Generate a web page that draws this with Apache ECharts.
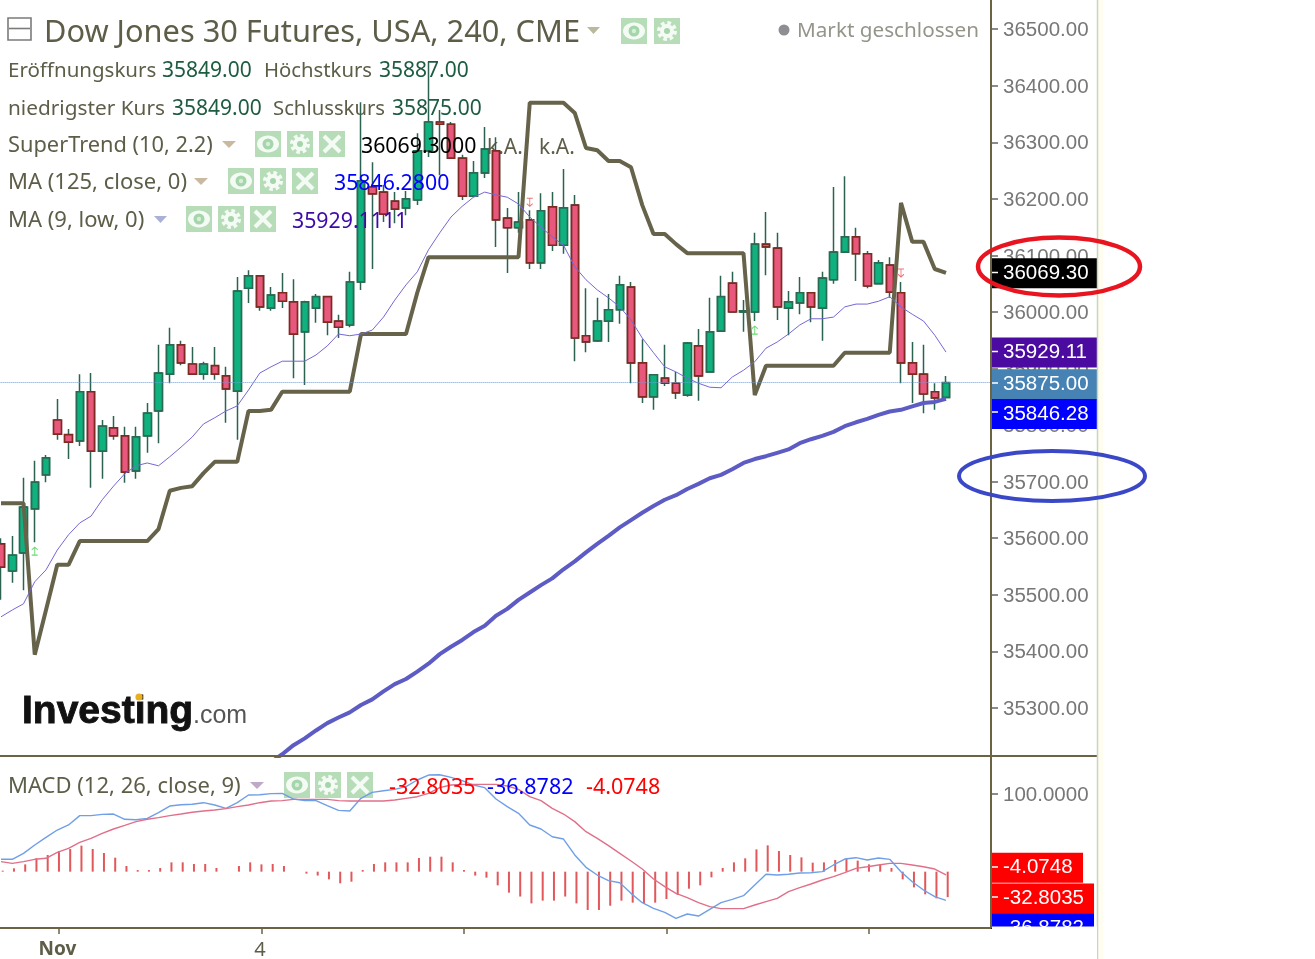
<!DOCTYPE html>
<html><head><meta charset="utf-8">
<style>html,body{margin:0;padding:0;background:#fff}#c{width:1315px;height:959px}</style>
<script src="https://cdn.jsdelivr.net/npm/echarts@6/dist/echarts.min.js"></script>
</head><body><div id="c"></div>
<script>
const opens=[35590,35542,35574,35652,35712,35809,35783,35772,35859,35754,35795,35781,35719,35781,35825,35890,35942,35908,35890,35905,35887,35860,36042,36064,36007,36034,36018,35965,36007,36027,35984,35977,36053,36221,36212,36196,36184,36198,36285,36336,36332,36272,36205,36246,36285,36166,36149,36163,36087,36186,36118,36189,35958,35949,35984,36004,36044,35910,35850,35883,35874,35853,35940,35894,35966,36051,36000,36000,36120,36113,36007,36016,36034,36007,36057,36106,36133,36103,36050,36083,36034,35910,35890,35859,35849];
const closes=[35549,35570,35655,35699,35742,35784,35770,35859,35754,35798,35781,35717,35779,35821,35892,35942,35910,35890,35908,35890,35864,36037,36064,36009,36030,36019,35961,36018,36027,35982,35973,36053,36232,36209,36173,36182,36200,36285,36336,36332,36272,36205,36246,36288,36163,36149,36159,36087,36179,36118,36184,35954,35947,35984,36004,36048,35910,35850,35889,35874,35857,35945,35887,35965,36027,36000,36002,36120,36115,36009,36018,36034,36009,36060,36106,36133,36103,36046,36087,36035,35910,35890,35855,35848,35875];
const lows=[35491,35521,35508,35593,35699,35774,35740,35763,35689,35705,35774,35698,35705,35751,35768,35874,35906,35890,35880,35880,35804,35774,36016,36002,36002,36007,35883,35871,35981,35959,35954,35973,36039,36076,36159,36157,36171,36189,36274,36242,36272,36198,36203,36237,36115,36069,36140,36076,36076,36108,36103,35913,35929,35947,35947,35979,35874,35839,35827,35869,35846,35850,35843,35894,35966,36000,35965,35984,36065,35986,35959,35996,35982,35949,36050,36106,36055,36042,36050,36025,35874,35839,35821,35827,35849];
const highs=[35600,35604,35707,35737,35747,35846,35793,35890,35892,35809,35816,35797,35797,35839,35942,35972,35949,35938,35912,35938,35903,36062,36074,36064,36044,36069,36058,36020,36032,36028,35995,36071,36371,36265,36225,36212,36214,36316,36442,36357,36336,36278,36267,36327,36309,36184,36212,36180,36210,36212,36253,36207,36042,36025,36032,36064,36053,35952,35890,35942,35894,35947,35970,36025,36064,36071,36021,36140,36177,36140,36037,36062,36034,36071,36221,36240,36149,36108,36092,36097,36053,35947,35942,35874,35887];
const superTrend=[35662,35662,35662,35394,35473,35553,35553,35595,35595,35595,35595,35595,35595,35595,35616,35684,35689,35692,35715,35735,35735,35735,35825,35825,35827,35859,35859,35859,35859,35859,35859,35859,35961,35961,35961,35961,35961,36034,36097,36097,36097,36097,36097,36097,36097,36097,36097,36370,36370,36370,36370,36352,36290,36286,36267,36267,36256,36189,36138,36138,36120,36104,36104,36104,36104,36104,36104,35853,35905,35905,35905,35905,35905,35905,35905,35928,35928,35928,35928,35928,36193,36124,36124,36076,36069.3];
const ma9Low=[35461,35473,35484,35523,35544,35579,35606,35627,35639,35668,35692,35714,35728,35733,35728,35744,35761,35779,35802,35813,35825,35834,35862,35892,35903,35913,35913,35913,35924,35940,35961,35958,35961,35968,35991,36021,36048,36071,36110,36140,36168,36187,36203,36212,36207,36203,36191,36168,36150,36133,36118,36080,36057,36039,36025,36009,35986,35954,35928,35903,35894,35883,35874,35867,35866,35885,35897,35912,35936,35947,35961,35977,35988,35988,35991,36009,36014,36014,36019,36027,36009,35996,35984,35959,35929.11];
const ma125Close=[null,null,null,null,null,null,null,null,null,null,null,null,null,null,null,null,null,null,null,null,null,null,null,null,35204,35218,35234,35246,35260,35273,35283,35292,35305,35315,35329,35342,35351,35364,35378,35395,35408,35420,35434,35445,35463,35475,35491,35504,35517,35529,35545,35559,35575,35590,35604,35619,35632,35645,35657,35668,35676,35687,35696,35706,35712,35722,35733,35740,35745,35751,35757,35768,35775,35781,35788,35798,35805,35811,35818,35824,35827,35833,35839,35841,35846.28];
const macdLine=[15.9,15.9,23.6,34.3,44.2,53.6,60.1,72.1,72.1,73.8,74.2,67.4,66.9,68.6,75.9,84.5,86.2,86.7,88.8,85.8,81.5,88.8,98.7,99.1,100.4,100.8,93.5,91.4,91.4,84.9,78.9,78.1,94.4,102.1,104.2,106,109.4,118,124.4,124.8,121.4,117.1,111.5,108.1,93.5,83.7,75.1,60.1,54.9,45,42,21.5,5.6,-4.3,-11.6,-14.2,-27.9,-39.9,-47.2,-52.3,-60.1,-54.5,-57.1,-48.5,-39.9,-35.6,-30.9,-17.2,-3.4,-4.3,-3.4,-1.7,-1.3,0,8.6,16.3,18,15,17.6,15.9,0,-12.9,-23.6,-32.2,-36.8782];
const signalLine=[12.9,10.7,12.9,15.9,17.2,24.9,30,37.8,42.9,49.3,54.9,59.6,64.4,67.4,69.5,72.1,74.2,76.4,78.1,79.4,81.1,83.7,85.8,88.8,90.9,91.4,93.1,93.1,93.1,93.1,91.4,90.9,90.9,90.9,90.9,92.2,94.4,96.5,100.8,108.1,111.5,112.4,112.4,112.4,112.4,110.3,106,96.5,91.4,81.5,74.2,64.4,51.5,42.9,33.5,23.6,13.7,3.4,-9.4,-19.3,-27.9,-33.5,-39.9,-45,-47.6,-47.6,-47.6,-42.9,-38.6,-34.3,-25.7,-20.6,-15.9,-10.7,-6.4,-1.3,4.3,6.4,8.6,10.7,10.7,8.6,6.4,3.4,-4.0748];
const histogram=[1.3,4.3,9.4,17.2,21.5,26.6,29.2,33.5,29.2,24,18,7.3,2.1,2.1,4.7,12,12,9.9,9.9,4.7,0,7.3,12,9.4,9.9,7.3,0,-2.5,-5,-9.9,-15,-12.9,2.1,9.9,12,12,12,17.6,19.3,19.3,12,2.1,-5,-7.7,-17.6,-27,-32,-40.8,-37.3,-37.3,-32,-40.8,-49.3,-49.3,-43.8,-37.3,-39.9,-40.8,-39.9,-35.2,-30,-21.9,-17.6,-7.3,4.7,12,17.2,28.7,33.9,26.6,21.5,18.4,11.6,12,15,16.3,14.2,9.4,9.4,4.7,-9.9,-20.2,-29.2,-34.3,-32.8035];
const upMarkers=[[3,35577],[67,35968]];
const downMarkers=[[47,36194],[80,36069]];
const priceTicks=[35300,35400,35500,35600,35700,35800,35900,36000,36100,36200,36300,36400,36500];
const macdTicks=[100];
const xTickLabels={5:'Nov',23:'4',41:'',59:'',77:''};

const slots=Array.from({length:89},(_,i)=>String(i));
const wickData=opens.map((o,i)=>[o,closes[i],lows[i],highs[i]]);
const bodyData=opens.map((o,i)=>[o,closes[i],Math.min(o,closes[i]),Math.max(o,closes[i])]);

const GREEN='#0fb27f',GREENB='#2a6a52',RED='#e8577c',REDB='#7d2a22',WICK='#2c6350';
const TXT='#5d5d48',VAL='#1d5c40',SANS='"Noto Sans",sans-serif',ARIAL='"Liberation Sans",Arial,sans-serif';
const g=[];
function text(x,y,t,fill,size,font,weight,z,extra){g.push({type:'text',z:z||0,style:Object.assign({x,y:y+(font?0:1.8),text:t,fill,font:(weight?weight+' ':'')+size+'px '+(font||SANS),verticalAlign:'middle',textVerticalAlign:'middle'},extra||{}),silent:true});}
function tri(x0,x1,y,fill){g.push({type:'polygon',shape:{points:[[x0,y-3],[x1,y-3],[(x0+x1)/2,y+4]]},style:{fill}});}
function rect(x,y,w,h,fill,z,extra){g.push({type:'rect',z:z||0,shape:{x,y,width:w,height:h},style:Object.assign({fill},extra||{})});}
function line(x1,y1,x2,y2,stroke,w,z){g.push({type:'line',z:z||0,shape:{x1,y1,x2,y2},style:{stroke,lineWidth:w}});}
const ICON='#b6dcb8';
function eye(x,y){rect(x,y,26,26,ICON);g.push({type:'ellipse',shape:{cx:x+13,cy:y+13,rx:11,ry:8.5},style:{fill:'#f4fbf4'}});g.push({type:'circle',shape:{cx:x+13,cy:y+13,r:5.5},style:{fill:'#a5d5aa'}});g.push({type:'circle',shape:{cx:x+13,cy:y+13,r:2.2},style:{fill:'#d8eeda'}});}
function gear(x,y){rect(x,y,26,26,ICON);g.push({type:'circle',shape:{cx:x+13,cy:y+13,r:8},style:{fill:'none',stroke:'#f4fbf4',lineWidth:4,lineDash:[3.5,2.8]}});g.push({type:'circle',shape:{cx:x+13,cy:y+13,r:7},style:{fill:'#f4fbf4'}});g.push({type:'circle',shape:{cx:x+13,cy:y+13,r:3},style:{fill:'#a5d5aa'}});}
function cross(x,y){rect(x,y,26,26,ICON);line(x+5,y+5,x+21,y+21,'#f4fbf4',4);line(x+21,y+5,x+5,y+21,'#f4fbf4',4);}

// header
rect(8,18,23,22,'#fff',0,{stroke:'#7b7b78',lineWidth:1.6});line(9,28.5,30,28.5,'#7b7b78',1.6);
text(44,31,'Dow Jones 30 Futures, USA, 240, CME',TXT,30.75);
tri(587,600,30,'#b9b99c');eye(621,18);gear(654,18);
g.push({type:'circle',shape:{cx:784,cy:30,r:5.5},style:{fill:'#8f8f93'}});
text(797,29,'Markt geschlossen','#94948a',20.7);
text(8,69,'Eröffnungskurs',TXT,20.5);text(162,69,'35849.00',VAL,21);text(264,69,'Höchstkurs',TXT,20.3);text(379,69,'35887.00',VAL,21);
text(8,107,'niedrigster Kurs',TXT,20.8);text(172,107,'35849.00',VAL,21);text(273,107,'Schlusskurs',TXT,20.3);text(392,107,'35875.00',VAL,21);
text(8,144,'SuperTrend (10, 2.2)',TXT,21.8);tri(222,236,144,'#c9b9a0');eye(255,131);gear(287,131);cross(319,131);
text(361,145,'36069.3000','#000',21.3,null,null,10);text(487,146,'k.A.',TXT,21);text(539,146,'k.A.',TXT,21);
text(8,181,'MA (125, close, 0)',TXT,22);tri(194,208,181,'#c9b9a0');eye(228,168);gear(260,168);cross(292,168);
text(334,182,'35846.2800','#0000ff',21.3,null,null,10);
text(8,219,'MA (9, low, 0)',TXT,22);tri(154,167,219,'#aab0d8');eye(186,206);gear(218,206);cross(250,206);
text(292,220,'35929.1111','#3d0aa8',21.3,null,null,10);
text(8,785,'MACD (12, 26, close, 9)',TXT,22);tri(250,264,785,'#c0a8c8');eye(284,772);gear(315,772);cross(347,772);
text(389,786,'-32.8035','#ff0000',21.5,null,null,10);text(487,786,'-36.8782','#0000ff',21.5,null,null,10);text(586,786,'-4.0748','#ff0000',21.5,null,null,10);
// logo
text(22,712,'Investing','#111',39,ARIAL,'bold',0,{stroke:'#111',lineWidth:0.9});
text(193,716,'.com','#555',25,ARIAL);
g.push({type:'circle',shape:{cx:139,cy:697,r:3.6},style:{fill:'#e8b020'}});
// frame
line(0,756,1097,756,'#6b6343',2,50);line(0,928,991,928,'#6b6343',2,50);line(991,0,991,928,'#6b6343',2,50);
line(1097.5,0,1097.5,959,'#c8d6c0',1.5,50);rect(1098,0,5,959,'#fffdf0',0);
// white ticks in tags
[272.5,351.5,383,412,867,897].forEach(y=>line(992,y,998,y,'#ffffff',1.5,60));
// clip of stacked macd tag
rect(992,926.5,105,33,'#fff',70);rect(989,929,4,30,'#fff',70);
// ellipses
g.push({type:'ellipse',z:100,shape:{cx:1059,cy:266.5,rx:81,ry:29},style:{fill:'none',stroke:'#e8141f',lineWidth:4.5}});
g.push({type:'ellipse',z:100,shape:{cx:1052,cy:476,rx:93,ry:25},style:{fill:'none',stroke:'#3a48c8',lineWidth:4}});

function tag(v,color,dy,boxW,dec){return {yAxis:v,lineStyle:{color:'transparent',width:0},label:{show:true,position:'end',distance:0,offset:[-6.6,dy],formatter:v.toFixed(dec),color:'#fff',fontFamily:ARIAL,fontSize:20.5,backgroundColor:color,width:boxW-13,height:28,lineHeight:28,padding:[2,0,0,13],align:'left'}};}

const axisText={a:{fontFamily:ARIAL,fontSize:20.5,color:'#777',padding:[3,0,0,0]}};
const GL=-4.625,GW=1001.25;
const option={
 animation:false,backgroundColor:'#fff',
 graphic:{elements:g},
 grid:[
  {left:GL,top:0,width:GW,height:756,outerBoundsMode:'none'},
  {left:GL,top:757,width:GW,height:171,outerBoundsMode:'none'},
  {left:GL+1.7,top:757,width:GW,height:171,outerBoundsMode:'none'}
 ],
 xAxis:[
  {type:'category',gridIndex:0,data:slots,show:false},
  {type:'category',gridIndex:1,data:slots,show:false},
  {type:'category',gridIndex:2,data:slots,axisLine:{show:false,onZero:false},
   axisTick:{show:true,alignWithLabel:true,length:6,lineStyle:{color:'#6b6343',width:1.5},interval:(i)=>i in xTickLabels},
   axisLabel:{show:true,interval:(i)=>i in xTickLabels,margin:12,hideOverlap:false,formatter:(v,i)=>{const t=xTickLabels[i]||'';return t==='Nov'?'{b|Nov}':'{n|'+t+'}';},rich:{b:{fontFamily:SANS,fontWeight:'bold',fontSize:19,color:TXT,padding:[0,3,0,0]},n:{fontFamily:SANS,fontSize:20,color:TXT,padding:[0,3,0,0]}}}}
 ],
 yAxis:[
  {type:'value',gridIndex:0,position:'right',offset:-5.6,min:35214.85,max:36551.7,splitLine:{show:false},axisLine:{show:false},
   axisTick:{show:true,length:7,customValues:priceTicks,lineStyle:{color:'#666',width:1.5}},
   axisLabel:{show:true,margin:12,customValues:priceTicks,formatter:v=>'{a|'+v.toFixed(2)+'}',rich:axisText}},
  {type:'value',gridIndex:1,position:'right',offset:-5.6,min:-72.5,max:147.6,splitLine:{show:false},axisLine:{show:false},
   axisTick:{show:true,length:7,customValues:macdTicks,lineStyle:{color:'#666',width:1.5}},
   axisLabel:{show:true,margin:12,customValues:macdTicks,formatter:v=>'{a|'+v.toFixed(4)+'}',rich:axisText}},
  {type:'value',gridIndex:2,min:-72.5,max:147.6,show:false}
 ],
 series:[
  {name:'Docht',type:'candlestick',xAxisIndex:0,yAxisIndex:0,data:wickData,barWidth:7,z:2,
   itemStyle:{color:GREEN,color0:RED,borderColor:WICK,borderColor0:WICK,borderWidth:1.5}},
  {name:'Dow Jones 30 Futures',type:'candlestick',xAxisIndex:0,yAxisIndex:0,data:bodyData,barWidth:8,z:3,
   itemStyle:{color:GREEN,color0:RED,borderColor:GREENB,borderColor0:REDB,borderWidth:1.7}},
  {name:'SuperTrend',type:'line',xAxisIndex:0,yAxisIndex:0,data:superTrend,symbol:'none',z:4,lineStyle:{color:'#66634a',width:4}},
  {name:'MA 125',type:'line',xAxisIndex:0,yAxisIndex:0,data:ma125Close,symbol:'none',z:4,connectNulls:false,lineStyle:{color:'#5c5cc4',width:4}},
  {name:'MA 9',type:'line',xAxisIndex:0,yAxisIndex:0,data:ma9Low,symbol:'none',z:4,lineStyle:{color:'#7468d4',width:1},
   markLine:{silent:true,symbol:'none',animation:false,z:6,data:[
     {yAxis:35875,label:{show:false},lineStyle:{color:'#6d9be0',type:'dotted',width:1}},
     tag(36069.30,'#000000',0.5,107,2),
     tag(35929.11,'#4b0aa0',0.5,107,2),
     tag(35875,'#4682b4',1.5,107,2),
     tag(35846.28,'#0000ff',15,107,2)
   ]}},
  {name:'Pfeil hoch',type:'scatter',xAxisIndex:0,yAxisIndex:0,data:upMarkers,symbol:'path://M1 9H7M4 9V0M1 3L4 0L7 3',symbolSize:[6,8],z:5,itemStyle:{color:'none',borderColor:'#3fd24a',borderWidth:1}},
  {name:'Pfeil runter',type:'scatter',xAxisIndex:0,yAxisIndex:0,data:downMarkers,symbol:'path://M1 0H7M4 0V9M1 6L4 9L7 6',symbolSize:[6,8],z:5,itemStyle:{color:'none',borderColor:'#e85050',borderWidth:1}},
  {name:'Histogramm',type:'bar',xAxisIndex:2,yAxisIndex:2,data:histogram,barWidth:2,z:3,itemStyle:{color:'#e2585a'}},
  {name:'MACD',type:'line',xAxisIndex:1,yAxisIndex:1,data:macdLine,symbol:'none',z:4,lineStyle:{color:'#6f9fe6',width:1.4}},
  {name:'Signal',type:'line',xAxisIndex:1,yAxisIndex:1,data:signalLine,symbol:'none',z:4,lineStyle:{color:'#e0708a',width:1.4},
   markLine:{silent:true,symbol:'none',animation:false,z:6,data:[
     tag(-4.0748,'#ff0000',-7,93,4),
     tag(-32.8035,'#ff0000',1.3,104,4),
     tag(-36.8782,'#0000ff',28,104,4)
   ]}}
 ]
};
const chart=echarts.init(document.getElementById('c'),null,{renderer:'canvas',width:1315,height:959});
chart.setOption(option);
</script></body></html>
